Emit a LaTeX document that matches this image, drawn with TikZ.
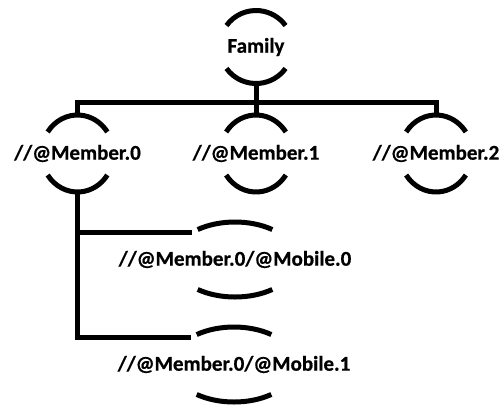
\documentclass[tikz,border=0pt]{standalone}
\usepackage{fontspec}
\setmainfont{Carlito}[BoldFeatures={FakeBold=0.6}]
\usetikzlibrary{shapes.geometric}

\tikzset{
  tie/.style={line width=5pt},
  ring/.style={ellipse, inner sep=0pt, font=\bfseries\fontsize{21}{25}\selectfont},
}
% top and bottom arcs of a ring: node, x radius, y radius, half opening
\newcommand\ringarcs[4]{%
  \draw[tie] (#1.center) ++(90+#4:#2pt and #3pt)
    arc[start angle=90+#4, end angle=90-#4, x radius=#2pt, y radius=#3pt];
  \draw[tie] (#1.center) ++(270-#4:#2pt and #3pt)
    arc[start angle=270-#4, end angle=270+#4, x radius=#2pt, y radius=#3pt];}

\begin{document}
\begin{tikzpicture}[x=1pt,y=-1pt]
  \useasboundingbox (0,0) rectangle (500,405);

  % root and members
  \node[ring, minimum width=73pt, minimum height=73pt] (fam) at (256,47) {\makebox[0pt]{Family}};
  \node[ring, minimum width=72pt, minimum height=77pt] (m0) at (77.5,153.5) {\makebox[0pt]{//@Member.0}};
  \node[ring, minimum width=72pt, minimum height=77pt] (m1) at (256,153.5) {\makebox[0pt]{//@Member.1}};
  \node[ring, minimum width=72pt, minimum height=77pt] (m2) at (436,153.5) {\makebox[0pt]{//@Member.2}};

  % mobiles of the first member
  \node[ring, minimum width=124pt, minimum height=75pt] (p0) at (235,259.5) {\makebox[0pt]{//@Member.0/@Mobile.0}};
  \node[ring, minimum width=124pt, minimum height=75pt] (p1) at (234,364.5) {\makebox[0pt]{//@Member.0/@Mobile.1}};

  \ringarcs{fam}{36.5}{36.5}{54}
  \foreach \m in {m0,m1,m2}{
    \ringarcs{\m}{36}{38.5}{56}}
  \foreach \p in {p0,p1}{
    \ringarcs{\p}{62}{37.5}{37}}

  \coordinate (bar) at (256,102);
  \draw[tie] (fam.south) -- (m1.north);
  \draw[tie] (m0.north) |- (bar) -| (m2.north);
  \draw[tie] (m0.south) |- (p0.148);
  \draw[tie] (m0.south) |- (p1.148);
\end{tikzpicture}
\end{document}
